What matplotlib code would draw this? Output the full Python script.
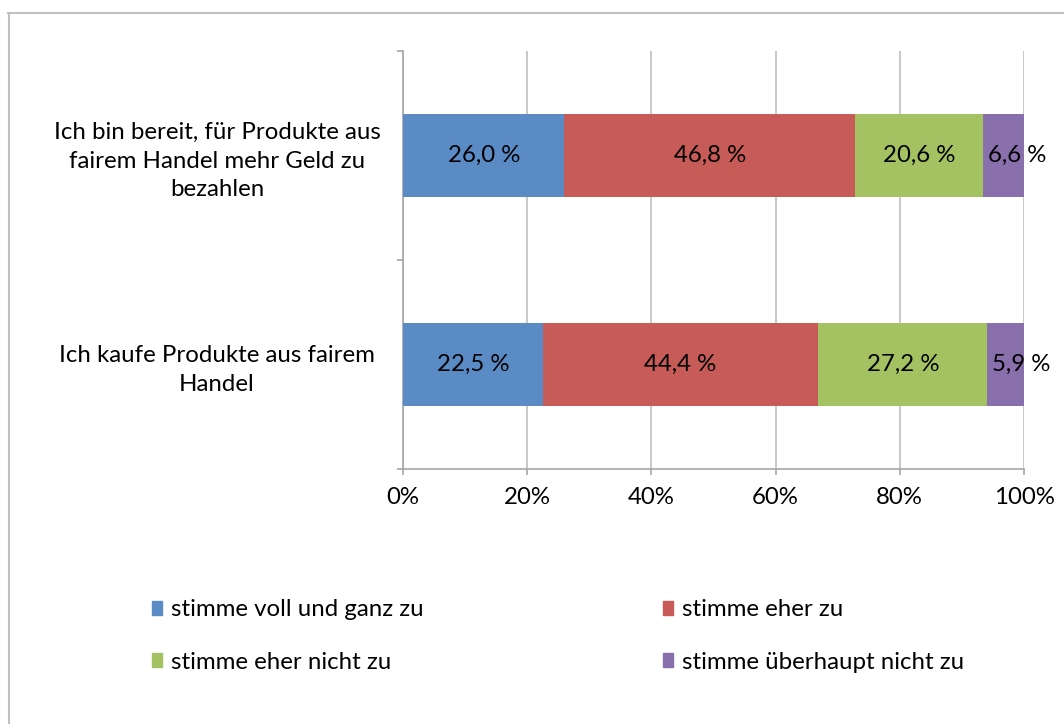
import matplotlib
matplotlib.use("Agg")
import matplotlib.pyplot as plt
from matplotlib.lines import Line2D
from matplotlib.ticker import FixedLocator, PercentFormatter
import numpy as np

plt.rcParams['font.family'] = ['Lato', 'DejaVu Sans']

categories = ["Ich kaufe Produkte aus fairem\nHandel",
              "Ich bin bereit, für Produkte aus\nfairem Handel mehr Geld zu\nbezahlen"]
series_names = ["stimme voll und ganz zu", "stimme eher zu",
                "stimme eher nicht zu", "stimme überhaupt nicht zu"]
voll = [22.5, 26.0]
eher = [44.4, 46.8]
eher_nicht = [27.2, 20.6]
ueberhaupt_nicht = [5.9, 6.6]
series_values = [voll, eher, eher_nicht, ueberhaupt_nicht]
colors = ["#5B8BC5", "#C75B58", "#A5C263", "#8970AC"]
xticks = [0, 20, 40, 60, 80, 100]

FS = 17.3
W, H = 1064, 724
fig = plt.figure(figsize=(W / 100, H / 100), dpi=100)
ax = fig.add_axes([403 / W, 1 - 469 / H, (1024 - 403) / W, (469 - 51) / H])

y = np.arange(len(categories))
left = np.zeros(len(categories))
for name, vals, col in zip(series_names, series_values, colors):
    vals = np.array(vals)
    ax.barh(y, vals, left=left, height=0.4, color=col, label=name, zorder=3)
    for i, (l, v) in enumerate(zip(left, vals)):
        txt = f"{v:.1f}".replace(".", ",") + " %"
        if name == series_names[-1]:
            ax.annotate(txt, xy=(l, y[i]), xytext=(5, 0), textcoords="offset pixels",
                        ha="left", va="center", fontsize=FS, color="black", zorder=4)
        else:
            ax.text(l + v / 2, y[i], txt, ha="center", va="center",
                    fontsize=FS, color="black", zorder=4)
    left = left + vals

ax.set_xlim(0, 100)
ax.set_ylim(-0.5, 1.5)
ax.set_xticks(xticks)
ax.xaxis.set_major_formatter(PercentFormatter(decimals=0))
ax.grid(axis="x", color="#BFBFBF", linewidth=1.2, zorder=0)
ax.tick_params(axis="x", length=4, color="#A6A6A6", labelsize=FS, pad=9, width=1.2)

ax.set_yticks(y)
ax.set_yticklabels(categories, ha="center", multialignment="center",
                   fontsize=FS, linespacing=1.45)
ax.tick_params(axis="y", which="major", length=0, pad=186 * 72 / 100)
ax.yaxis.set_minor_locator(FixedLocator([-0.5, 0.5, 1.5]))
ax.tick_params(axis="y", which="minor", length=4, color="#A6A6A6", width=1.2)

for s in ["top", "right"]:
    ax.spines[s].set_visible(False)
for s in ["left", "bottom"]:
    ax.spines[s].set_color("#A6A6A6")
    ax.spines[s].set_linewidth(1.2)

# legend filled row by row: (voll, eher) / (eher nicht, überhaupt nicht)
order = [0, 2, 1, 3]
handles = [plt.Rectangle((0, 0), 1, 1, color=colors[k]) for k in order]
labels = [series_names[k] for k in order]
fig.legend(handles, labels, ncol=2, loc="center left",
           bbox_to_anchor=(130 / W, 1 - 636 / H), frameon=False,
           fontsize=FS, handlelength=0.45, handleheight=0.55,
           handletextpad=0.35, columnspacing=9.95, labelspacing=1.3)

# outer chart frame
fig.add_artist(Line2D([8.5 / W, 8.5 / W], [0, 1 - 13 / H], color="#C0C0C0", linewidth=1.5))
fig.add_artist(Line2D([8 / W, 1], [1 - 13 / H, 1 - 13 / H], color="#C0C0C0", linewidth=1.5))

fig.savefig("out.png", dpi=100)
